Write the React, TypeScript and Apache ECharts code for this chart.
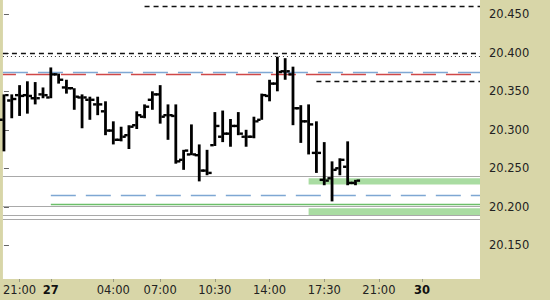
import React, { useEffect, useRef } from "react";
import * as echarts from "echarts";

// ---- Data (30-minute OHLC bars, slot index on x) ----
const slots = [
  0, 1, 2, 3, 4, 5, 6, 7, 8, 9, 10, 11, 12, 13, 14, 15, 16, 17, 18, 19, 20, 21, 22,
  23, 24, 25, 26, 27, 28, 29, 30, 31, 32, 33, 34, 35, 36, 37, 38, 39, 40, 41, 42, 43, 44, 45,
];
const opens = [
  20.313, 20.338, 20.345, 20.345, 20.341, 20.346, 20.342, 20.372, 20.355, 20.354, 20.342, 20.339,
  20.333, 20.324, 20.299, 20.287, 20.293, 20.306, 20.317, 20.339, 20.346, 20.319, 20.318, 20.261,
  20.268, 20.267, 20.247, 20.28, 20.291, 20.295, 20.305, 20.291, 20.291, 20.313, 20.344, 20.36,
  20.376, 20.372, 20.328, 20.311, 20.27, 20.235, 20.237, 20.25, 20.252, 20.231,
];
const highs = [
  20.346, 20.346, 20.358, 20.363, 20.362, 20.355, 20.381, 20.373, 20.365, 20.354, 20.346, 20.343,
  20.343, 20.337, 20.311, 20.304, 20.306, 20.324, 20.333, 20.35, 20.358, 20.333, 20.333, 20.274,
  20.307, 20.281, 20.274, 20.323, 20.325, 20.314, 20.323, 20.3, 20.317, 20.347, 20.365, 20.395,
  20.393, 20.382, 20.332, 20.333, 20.311, 20.284, 20.259, 20.263, 20.285, 20.235,
];
const lows = [
  20.272, 20.315, 20.318, 20.321, 20.333, 20.341, 20.341, 20.36, 20.347, 20.326, 20.302, 20.313,
  20.319, 20.293, 20.281, 20.285, 20.275, 20.301, 20.315, 20.326, 20.308, 20.287, 20.256, 20.248,
  20.267, 20.233, 20.241, 20.279, 20.284, 20.278, 20.293, 20.278, 20.289, 20.313, 20.337, 20.35,
  20.365, 20.306, 20.283, 20.268, 20.244, 20.228, 20.207, 20.241, 20.228, 20.228,
];
const closes = [
  20.345, 20.34, 20.344, 20.344, 20.341, 20.345, 20.372, 20.365, 20.354, 20.343, 20.342, 20.339,
  20.333, 20.299, 20.287, 20.291, 20.304, 20.319, 20.33, 20.346, 20.317, 20.319, 20.259, 20.273,
  20.268, 20.247, 20.244, 20.305, 20.295, 20.305, 20.295, 20.291, 20.311, 20.345, 20.36, 20.375,
  20.376, 20.328, 20.311, 20.307, 20.27, 20.234, 20.248, 20.261, 20.231, 20.234,
];

// ---- Axis labels ----
const timeTickSlots = [2, 6, 14, 20, 27, 34, 41, 48, 53.5];
const timeTickLabels = ["21:00", "27", "04:00", "07:00", "10:30", "14:00", "17:30", "21:00", "30"];
const dateLabels = ["27", "30"];
const priceTicks = [20.15, 20.2, 20.25, 20.3, 20.35, 20.4, 20.45];
const lastPrice = 20.234;
const lastPriceText = "20.234,00";

// ---- Level lines ----
const levelValues = [20.461, 20.4, 20.396, 20.375, 20.372, 20.363, 20.24, 20.215, 20.203, 20.2007, 20.189, 20.1842];
const levelStarts = [18, null, null, null, null, 40, null, 6, 6, null, null, null];
const levelKinds = ["blackDash", "blackDash", "dotted", "blue", "red", "blackDash", "gray", "blue", "green", "gray", "gray", "gray"];

// ---- Zones ----
const zoneStarts = [39, 39];
const zoneTops = [20.237, 20.198];
const zoneBottoms = [20.229, 20.1894];

const X_MIN = -0.13;
const X_MAX = 60.94;
const Y_MIN = 20.1062;
const Y_MAX = 20.4686;

const FONT = "DejaVu Sans";
const PANEL = "#d8d6a8";

const lineStyles: Record<string, any> = {
  blackDash: { color: "#111", type: [5, 4], width: 1.3 },
  dotted: { color: "#333", type: [1, 3], width: 1 },
  blue: { color: "#7ea7d3", type: [25, 10], width: 1.3 },
  red: { color: "#d04848", type: [25, 10], dashOffset: 12, width: 1.3 },
  gray: { color: "#a9a9a9", type: "solid", width: 1 },
  green: { color: "#6cbf6a", type: "solid", width: 1.3 },
};

function buildOption() {
  const data = slots.map((k, i) => [k, opens[i], highs[i], lows[i], closes[i]]);

  const markLines: any[] = levelValues.map((v, i) => {
    const start = levelStarts[i];
    return [
      { coord: [start === null ? X_MIN : start, v], lineStyle: lineStyles[levelKinds[i]] },
      { coord: [X_MAX, v] },
    ];
  });
  markLines.push([
    {
      coord: [X_MIN, lastPrice],
      lineStyle: { opacity: 0 },
      label: {
        show: true,
        position: "end",
        distance: 5,
        formatter: lastPriceText,
        color: "#111",
        fontFamily: FONT,
        fontSize: 11.5,
        backgroundColor: "#f4cd10",
        padding: [3, 2, 3, 2],
      },
    },
    { coord: [X_MAX, lastPrice] },
  ]);

  const markAreas = zoneStarts.map((s, i) => [
    { coord: [s, zoneTops[i]] },
    { coord: [X_MAX, zoneBottoms[i]] },
  ]);

  return {
    animation: false,
    backgroundColor: PANEL,
    grid: {
      left: 0,
      right: 70,
      top: 0,
      bottom: 21,
      show: true,
      backgroundColor: "#ffffff",
      borderWidth: 0,
    },
    xAxis: {
      type: "value",
      min: X_MIN,
      max: X_MAX,
      axisLine: { show: false },
      splitLine: { show: false },
      axisTick: {
        show: true,
        customValues: timeTickSlots,
        length: 3,
        lineStyle: { color: "#9a9a80" },
      },
      axisLabel: {
        customValues: timeTickSlots,
        margin: 5,
        color: "#222",
        fontFamily: FONT,
        fontSize: 11.5,
        formatter: (v: number) => {
          const idx = timeTickSlots.findIndex((t) => Math.abs(t - v) < 1e-6);
          if (idx < 0) return "";
          const t = timeTickLabels[idx];
          return dateLabels.includes(t) ? `{b|${t}}` : t;
        },
        rich: {
          b: { fontWeight: "bold", fontFamily: FONT, fontSize: 11.5, color: "#111" },
        },
      },
    },
    yAxis: {
      type: "value",
      position: "right",
      min: Y_MIN,
      max: Y_MAX,
      axisLine: { show: false },
      splitLine: { show: false },
      axisTick: {
        show: true,
        customValues: priceTicks,
        length: 5,
        lineStyle: { color: "#666" },
      },
      axisLabel: {
        customValues: priceTicks,
        margin: 9,
        color: "#222",
        fontFamily: FONT,
        fontSize: 11.5,
        formatter: (v: number) => v.toFixed(3),
      },
    },
    series: [
      {
        type: "custom",
        z: 10,
        data,
        encode: { x: 0, y: [1, 2, 3, 4] },
        renderItem: (_params: any, api: any) => {
          const k = api.value(0);
          const o = api.coord([k, api.value(1)]);
          const h = api.coord([k, api.value(2)]);
          const l = api.coord([k, api.value(3)]);
          const c = api.coord([k, api.value(4)]);
          const x = h[0];
          return {
            type: "group",
            children: [
              {
                type: "rect",
                shape: { x: x - 1.4, y: h[1], width: 2.8, height: Math.max(2, l[1] - h[1]) },
                style: { fill: "#000" },
              },
              {
                type: "rect",
                shape: { x: x - 4.6, y: o[1] - 1.2, width: 3.4, height: 2.4 },
                style: { fill: "#000" },
              },
              {
                type: "rect",
                shape: { x: x + 1.2, y: c[1] - 1.2, width: 3.4, height: 2.4 },
                style: { fill: "#000" },
              },
            ],
          };
        },
        markLine: {
          silent: true,
          symbol: "none",
          label: { show: false },
          data: markLines,
        },
        markArea: {
          silent: true,
          itemStyle: { color: "#a9dca2" },
          data: markAreas,
        },
      },
    ],
  };
}

export default function App() {
  const ref = useRef<HTMLDivElement>(null);
  useEffect(() => {
    if (!ref.current) return;
    const chart = echarts.init(ref.current, null, { renderer: "svg" });
    chart.setOption(buildOption() as any);
    return () => chart.dispose();
  }, []);
  return (
    <div
      ref={ref}
      style={{ position: "fixed", left: 0, top: 0, width: 550, height: 300 }}
    />
  );
}
